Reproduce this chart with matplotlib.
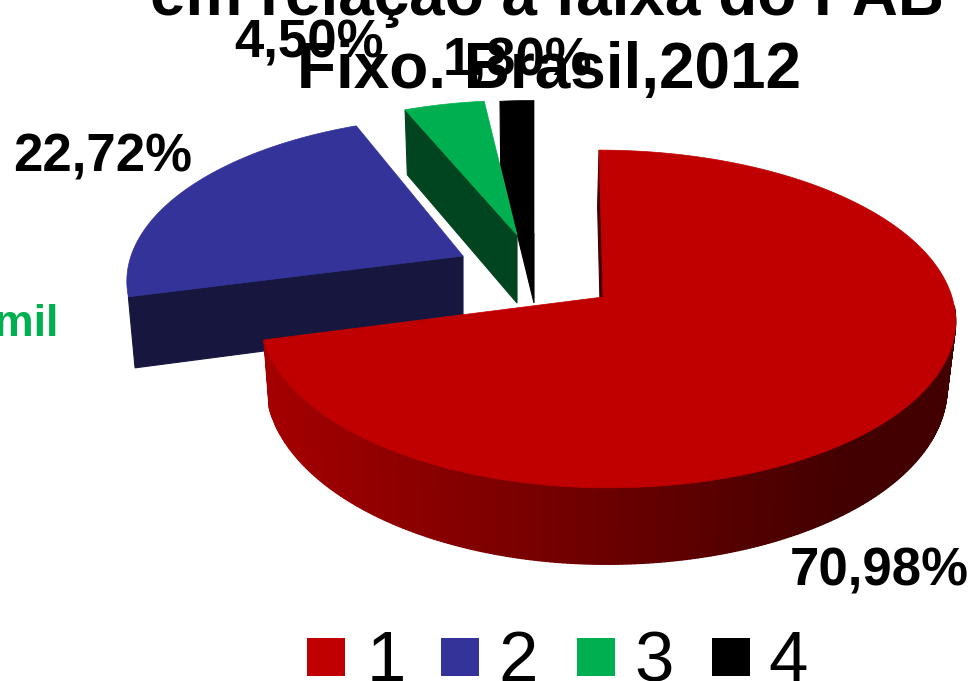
import numpy as np
import matplotlib
matplotlib.use("Agg")
import matplotlib.pyplot as plt
from matplotlib.patches import Rectangle

# --- data ---
categories = ["1", "2", "3", "4"]
percent_values = [70.98, 22.72, 4.50, 1.80]
percent_labels = ["70,98%", "22,72%", "4,50%", "1,80%"]
title_lines = ["em relação à faixa do PAB", "Fixo. Brasil,2012"]
stray_text = "mil"

# --- style ---
top_colors = ["#c00000", "#333399", "#00b050", "#000000"]
side_colors = ["#420000", "#16163f", "#004420", "#000000"]
# per-slice projection: apex x, apex y, a right, a left, b, wall height,
# wall y scale, wall x scale, skew, wall x shift
geom = [
    (603, 297, 349, 340, 166, 65, 1.06, 0.98, 0.027, -1.5),
    (463, 256, 332, 332, 158, 69, 1.05, 0.98, -0.058, 0),
    (517, 235, 324, 324, 152, 68, 1.024, 0.98, 0.003, 0),
    (534, 235, 340, 340, 152, 68, 1.02, 0.98, 0.0, 0),
]
K = 0.13
plt.rcParams["font.family"] = ["Liberation Sans", "DejaVu Sans"]

fig = plt.figure(figsize=(9.7, 6.81), dpi=100)
ax = fig.add_axes([0, 0, 1, 1])
ax.set_xlim(0, 970)
ax.set_ylim(681, 0)
ax.axis("off")


def project(theta, g, wall=False):
    cx, cy, ar, al, b, h, sy, sx, skew, shift = g
    theta = np.atleast_1d(theta)
    c, s = np.cos(theta), np.sin(theta)
    a = np.where(c >= 0, ar, al)
    d = 1 + K * s
    dx, dy = a * c / d, -b * s / d
    dx = dx + skew * dy
    if wall:
        return cx + shift + sx * dx, cy + h + sy * dy
    return cx + dx, cy + dy


# slice angles, clockwise from twelve o'clock
cum = np.concatenate([[0], np.cumsum(percent_values)]) / sum(percent_values) * 2 * np.pi
starts = np.pi / 2 - cum[:-1]
ends = np.pi / 2 - cum[1:]
draw_order = [3, 2, 1, 0]

for i in draw_order:
    g = geom[i]
    # radial wall facing the viewer
    wall_angle = starts[i]
    ox, oy = project(wall_angle, g)
    bx, by = project(wall_angle, g, wall=True)
    ax.fill([g[0], ox[0], bx[0], g[0] + g[9]], [g[1], oy[0], by[0], g[1] + g[5]],
            color=side_colors[i], lw=0.8, zorder=2 + (3 - i))
    if i == 0:
        # curved outer wall with a gradient by horizontal position
        th = np.linspace(ends[i], np.radians(-3), 260)
        tx, ty = project(th, g)
        ux, uy = project(th, g, wall=True)
        for j in range(len(th) - 1):
            f = np.clip((tx[j] - 263) / (850 - 263), 0, 1)
            col = ((0xa5 + (0x42 - 0xa5) * f) / 255, 0, 0)
            ax.fill([tx[j], tx[j + 1], ux[j + 1], ux[j]],
                    [ty[j], ty[j + 1], uy[j + 1], uy[j]],
                    color=col, lw=1.0, zorder=6)
    th = np.linspace(starts[i], ends[i], 300)
    x, y = project(th, g)
    ax.fill(np.r_[g[0], x], np.r_[g[1], y], color=top_colors[i], lw=0.5, zorder=3 + (3 - i) if i else 7)

# title (clipped by the canvas, as in the picture)
ax.text(547, 15, title_lines[0], fontsize=46, fontweight="bold", ha="center", va="baseline", zorder=10)
ax.text(549, 88, title_lines[1], fontsize=46, fontweight="bold", ha="center", va="baseline", zorder=10)

# data labels
label_pos = [(879, 585), (103, 171), (309, 57), (517, 76)]
for txt, (lx, ly) in zip(percent_labels, label_pos):
    ax.text(lx, ly, txt, fontsize=38, fontweight="bold", ha="center", va="baseline", zorder=11)

ax.text(58, 336, stray_text, fontsize=32, fontweight="bold", color="#00b050", ha="right", va="baseline", zorder=11)

# legend
swatch_x = [307, 441, 577, 712]
digit_x = [386, 518, 654, 788]
for cat, col, sx_, dx_ in zip(categories, top_colors, swatch_x, digit_x):
    ax.add_patch(Rectangle((sx_, 638), 38, 38, facecolor=col, edgecolor="none", zorder=11))
    ax.text(dx_, 681, cat, fontsize=51, ha="center", va="baseline", zorder=11)

fig.savefig("out.png", dpi=100)
